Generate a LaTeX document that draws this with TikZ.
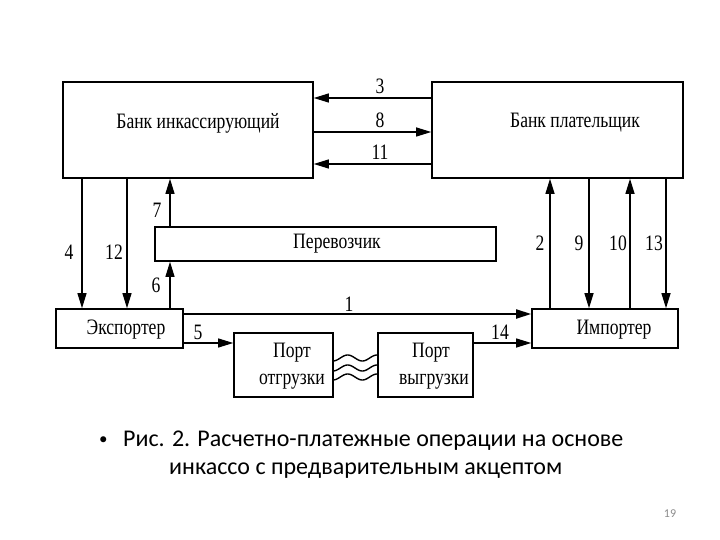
\documentclass[tikz,border=0pt]{standalone}
\usepackage{fontspec}
\setmainfont{Liberation Serif}
\newfontfamily\diagfont[FakeStretch=0.8]{Liberation Serif}
\newfontfamily\capfont{Carlito}
\usetikzlibrary{arrows.meta}
\definecolor{pagenum}{RGB}{140,140,140}
\begin{document}
\begin{tikzpicture}[x=1pt,y=-1pt,
  box/.style={draw, line width=1.6pt, inner sep=0pt},
  txt/.style={font=\diagfont\fontsize{22}{24}\selectfont, inner sep=0pt},
  num/.style={font=\diagfont\fontsize{22}{24}\selectfont, inner sep=0pt},
  arr/.style={line width=1.2pt, -{Triangle[length=15pt,width=9pt]}},
  wave/.style={line width=1.4pt},
  captext/.style={font=\capfont\fontsize{24}{29}\selectfont, inner sep=0pt, anchor=west}]
\useasboundingbox[fill=white] (0,0) rectangle (720,540);

% boxes
\node[box, minimum width=250pt, minimum height=96pt] (bank1) at (188,130) {};
\node[box, minimum width=251pt, minimum height=96pt] (bank2) at (557.5,130) {};
\node[box, minimum width=341pt, minimum height=34pt] (carrier) at (325.5,244) {};
\node[box, minimum width=127pt, minimum height=39pt] (exp) at (119.5,328.5) {};
\node[box, minimum width=146pt, minimum height=39pt] (imp) at (605,328.5) {};
\node[box, minimum width=99pt, minimum height=64pt] (portA) at (283.5,365) {};
\node[box, minimum width=95pt, minimum height=64pt] (portB) at (425.5,365) {};

% box texts
\node[txt] (t1) at (198,123) {Банк инкассирующий};
\node[txt] (t2) at (575,123) {Банк плательщик};
\node[txt] (t3) at (337,244) {Перевозчик};
\node[txt] (t4) at (126,330) {Экспортер};
\node[txt] (t5) at (614,330) {Импортер};
\node[txt] (t6) at (292,353) {Порт};
\node[txt] (t7) at (292,382) {отгрузки};
\node[txt] (t8) at (431,353) {Порт};
\node[txt] (t9) at (434,382) {выгрузки};

% bank to bank
\draw[arr] (bank2.west |- 0,98) -- (bank1.east |- 0,98);
\draw[arr] (bank1.east |- 0,132) -- (bank2.west |- 0,132);
\draw[arr] (bank2.west |- 0,164) -- (bank1.east |- 0,164);
\node[num] (n3) at (380,86) {3};
\node[num] (n8) at (380,120) {8};
\node[num] (n11) at (380,152) {11};

% left verticals
\draw[arr] (82,0 |- bank1.south) -- (82,0 |- exp.north);
\draw[arr] (127,0 |- bank1.south) -- (127,0 |- exp.north);
\draw[arr] (170,0 |- carrier.north) -- (170,0 |- bank1.south);
\draw[arr] (170,0 |- exp.north) -- (170,0 |- carrier.south);
\node[num] (n4) at (69,252) {4};
\node[num] (n12) at (114,252) {12};
\node[num] (n7) at (157,210) {7};
\node[num] (n6) at (156,285) {6};

% right verticals
\draw[arr] (550,0 |- imp.north) -- (550,0 |- bank2.south);
\draw[arr] (589,0 |- bank2.south) -- (589,0 |- imp.north);
\draw[arr] (630,0 |- imp.north) -- (630,0 |- bank2.south);
\draw[arr] (666,0 |- bank2.south) -- (666,0 |- imp.north);
\node[num] (n2) at (540,243) {2};
\node[num] (n9) at (579,243) {9};
\node[num] (n10) at (618,243) {10};
\node[num] (n13) at (654,243) {13};

% bottom row
\draw[arr, line width=1.8pt] (exp.east |- 0,314) -- (imp.west |- 0,314);
\node[num] (n1) at (349,304) {1};
\draw[arr] (exp.east |- 0,343) -- (portA.west |- 0,343);
\node[num] (n5) at (198,332) {5};
\draw[arr] (portB.east |- 0,343) -- (imp.west |- 0,343);
\node[num] (n14) at (500,332) {14};

% waves
\foreach \yy in {358,368,377}{
  \draw[wave] plot[domain=0:44, samples=45, smooth] ({333+\x},{\yy+3*cos(\x/44*540)});
}

% caption
\node[captext, font=\capfont\fontsize{17}{20}\selectfont] (bul) at (99,441) {•};
\node[captext] (c1) at (123,441) {Рис. 2. Расчетно-платежные операции на основе};
\node[captext] (c2) at (169,471) {инкассо с предварительным акцептом};
\node[font=\capfont\fontsize{12}{14}\selectfont, text=pagenum, inner sep=0pt] (pg) at (670,514) {19};
\end{tikzpicture}
\end{document}
